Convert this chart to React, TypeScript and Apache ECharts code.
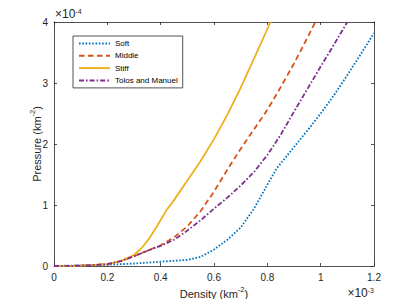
import React, { useEffect, useRef } from 'react';
import * as echarts from 'echarts';

// Density in units of 1e-3 km^-2, pressure in units of 1e-4 km^-2
const seriesNames = ['Soft', 'Middle', 'Stiff', 'Tolos and Manuel'];

const softDensity = [0, 0.1, 0.2, 0.3, 0.4, 0.5, 0.55, 0.6, 0.65, 0.7, 0.75, 0.8, 0.835, 0.85, 0.9, 0.95, 1.0, 1.05, 1.1, 1.15, 1.2];
const softPressure = [0, 0.01, 0.02, 0.04, 0.07, 0.1, 0.15, 0.27, 0.43, 0.63, 0.94, 1.33, 1.6, 1.68, 1.95, 2.22, 2.5, 2.8, 3.13, 3.47, 3.82];

const middleDensity = [0, 0.1, 0.2, 0.25, 0.3, 0.35, 0.4, 0.45, 0.5, 0.55, 0.6, 0.65, 0.7, 0.75, 0.8, 0.85, 0.9, 0.95, 0.98];
const middlePressure = [0, 0.005, 0.03, 0.08, 0.16, 0.25, 0.34, 0.47, 0.65, 0.9, 1.22, 1.58, 1.92, 2.24, 2.56, 2.93, 3.32, 3.74, 4.0];

const stiffDensity = [0, 0.1, 0.2, 0.25, 0.3, 0.33, 0.36, 0.39, 0.4225, 0.45, 0.5, 0.55, 0.6, 0.65, 0.7, 0.75, 0.812];
const stiffPressure = [0, 0.005, 0.03, 0.08, 0.18, 0.3, 0.47, 0.68, 0.92, 1.08, 1.4, 1.72, 2.08, 2.48, 2.92, 3.4, 4.0];

const tolosDensity = [0, 0.1, 0.2, 0.25, 0.3, 0.35, 0.4, 0.45, 0.5, 0.55, 0.6, 0.65, 0.7, 0.75, 0.8, 0.85, 0.9, 0.95, 1.0, 1.05, 1.1];
const tolosPressure = [0, 0.005, 0.03, 0.08, 0.16, 0.25, 0.33, 0.43, 0.58, 0.75, 0.94, 1.12, 1.32, 1.54, 1.82, 2.15, 2.53, 2.9, 3.27, 3.63, 4.0];

const xMin = 0;
const xMax = 1.2;
const xStep = 0.2;
const yMin = 0;
const yMax = 4;
const yStep = 1;

const colors = ['#0072BD', '#D95319', '#EDB120', '#7E2F8E'];
const FONT = '"Liberation Sans", Arial, Helvetica, sans-serif';
const AXIS = '#262626';

const zip = (xs: number[], ys: number[]) => xs.map((x, i) => [x, ys[i]]);

export default function App() {
  const ref = useRef<HTMLDivElement>(null);
  useEffect(() => {
    document.body.style.margin = '0';
    const chart = echarts.init(ref.current!, null, { renderer: 'svg' });
    const axisCommon = {
      type: 'value' as const,
      axisLine: { show: true, onZero: false, lineStyle: { color: AXIS, width: 0.8 } },
      axisTick: { show: true, inside: true, length: 3, lineStyle: { color: AXIS, width: 0.8 } },
      splitLine: { show: false },
    };
    const fmt = (v: number) => String(parseFloat(v.toFixed(2)));
    const rich = {
      n: { fontSize: 11, fontFamily: FONT, color: AXIS, lineHeight: 14, verticalAlign: 'bottom' },
      s: { fontSize: 7.5, fontFamily: FONT, color: AXIS, lineHeight: 8, verticalAlign: 'top' },
    };
    const richSmall = {
      n: { fontSize: 10, fontFamily: FONT, color: AXIS, lineHeight: 13, verticalAlign: 'bottom' },
      s: { fontSize: 7, fontFamily: FONT, color: AXIS, lineHeight: 8, verticalAlign: 'top' },
    };
    const datasets = [
      zip(softDensity, softPressure),
      zip(middleDensity, middlePressure),
      zip(stiffDensity, stiffPressure),
      zip(tolosDensity, tolosPressure),
    ];
    const dashes: any[] = [[1.6, 1.7], [5.5, 3.5], 'solid', [5, 2, 1.6, 2]];
    const option: any = {
      animation: false,
      backgroundColor: '#fff',
      grid: { left: 54, right: 39, top: 22, bottom: 33, containLabel: false },
      xAxis: [
        {
          ...axisCommon,
          position: 'bottom',
          min: xMin,
          max: xMax,
          interval: xStep,
          axisLabel: { color: AXIS, fontSize: 10, fontFamily: FONT, margin: 6, formatter: fmt },
        },
        {
          ...axisCommon,
          position: 'top',
          min: xMin,
          max: xMax,
          interval: xStep,
          axisLabel: { show: false },
        },
      ],
      yAxis: [
        {
          ...axisCommon,
          position: 'left',
          min: yMin,
          max: yMax,
          interval: yStep,
          axisLabel: { color: AXIS, fontSize: 10, fontFamily: FONT, margin: 6, formatter: fmt },
        },
        {
          ...axisCommon,
          position: 'right',
          min: yMin,
          max: yMax,
          interval: yStep,
          axisLabel: { show: false },
        },
      ],
      legend: {
        orient: 'vertical',
        left: 73,
        top: 36,
        itemWidth: 31,
        itemHeight: 9,
        itemGap: 3.3,
        padding: [3, 5, 3, 5],
        borderColor: AXIS,
        borderWidth: 0.8,
        backgroundColor: '#fff',
        itemStyle: { opacity: 0, color: 'transparent', borderWidth: 0 },
        textStyle: { fontSize: 8, fontFamily: FONT, color: '#000', lineHeight: 9 },
        data: seriesNames,
      },
      series: seriesNames.map((name, i) => ({
        name,
        type: 'line',
        xAxisIndex: 0,
        yAxisIndex: 0,
        data: datasets[i],
        symbol: 'none',
        showSymbol: false,
        smooth: false,
        clip: true,
        color: colors[i],
        lineStyle: { color: colors[i], width: 1.8, type: dashes[i] },
        z: 2 + i,
      })),
      graphic: [
        {
          type: 'text',
          x: 55,
          y: 20,
          style: { text: '×10{s|-4}', rich: richSmall, fill: AXIS, align: 'left', verticalAlign: 'bottom' },
        },
        {
          type: 'text',
          x: 374,
          y: 293,
          style: { text: '×10{s|-3}', rich: richSmall, fill: AXIS, align: 'right', verticalAlign: 'middle' },
        },
        {
          type: 'text',
          x: 214,
          y: 292,
          style: { text: '{n|Density (km}{s|-2}{n|)}', rich, fill: AXIS, align: 'center', verticalAlign: 'middle' },
        },
        {
          type: 'text',
          x: 35,
          y: 144,
          rotation: Math.PI / 2,
          style: { text: '{n|Pressure (km}{s|-2}{n|)}', rich, fill: AXIS, align: 'center', verticalAlign: 'middle' },
        },
      ],
    };
    chart.setOption(option);
    return () => chart.dispose();
  }, []);
  return <div ref={ref} style={{ width: 413, height: 299, background: '#fff' }} />;
}
